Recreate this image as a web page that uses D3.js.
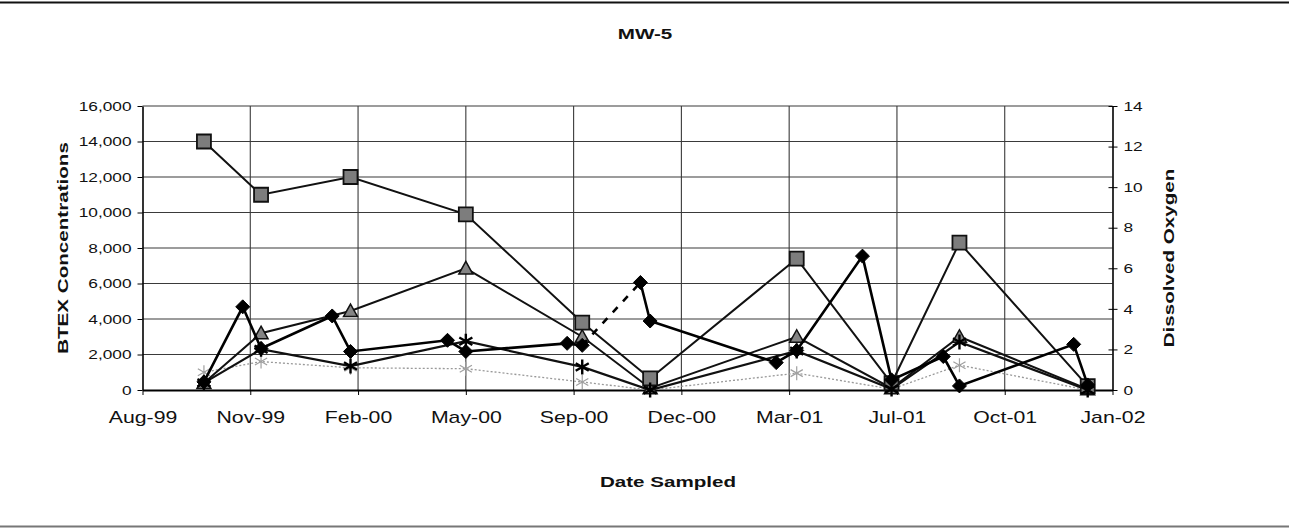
<!DOCTYPE html>
<html>
<head>
<meta charset="utf-8">
<title>MW-5</title>
<script src="https://cdn.jsdelivr.net/npm/d3@7"></script>
<style>
  html, body { margin: 0; background: #fff; }
  svg { display: block; font-family: Arial, 'Liberation Sans', sans-serif; }
</style>
</head>
<body>
<svg id="chart" width="1289" height="529"></svg>
<script>
/* MW-5: BTEX concentrations (left axis) and dissolved oxygen (right axis) */

// sampling events shared by the BTEX series
const sampleDates = ['1999-09-27', '1999-11-19', '2000-02-10', '2000-05-27', '2000-09-12',
  '2000-11-14', '2001-03-30', '2001-06-26', '2001-08-28', '2001-12-25']
const squareSeries = [14000, 11000, 12000, 9900, 3800, 650, 7400, 380, 8300, 220]
const triangleSeries = [400, 3200, 4450, 6850, 3000, 100, 3000, 100, 3000, 50]
const starSeries = [400, 2300, 1350, 2750, 1300, 0, 2200, 50, 2700, 0]
const lightStarSeries = [1000, 1600, 1250, 1200, 450, 0, 950, 50, 1400, 0]

// dissolved oxygen has its own dates
const doDates = ['1999-09-27', '1999-11-02', '1999-11-19', '2000-01-24', '2000-02-10',
  '2000-05-10', '2000-05-27', '2000-08-29', '2000-09-12', '2000-11-05', '2000-11-14',
  '2001-03-11', '2001-03-30', '2001-05-30', '2001-06-26', '2001-08-13', '2001-08-28',
  '2001-12-12', '2001-12-25']
const doValues = [0.4, 4.1, 2.05, 3.65, 1.9, 2.45, 1.9, 2.3, 2.2, 5.3, 3.4, 1.35, 1.95,
  6.6, 0.5, 1.65, 0.2, 2.25, 0.25]
const doDashedAfter = 8 // the segment from this point to the next one is dashed

// axes
const axisStart = '1999-08-01'
const dayStep = 100
const xTickLabels = ['Aug-99', 'Nov-99', 'Feb-00', 'May-00', 'Sep-00', 'Dec-00',
  'Mar-01', 'Jul-01', 'Oct-01', 'Jan-02']
const leftTicks = [0, 2000, 4000, 6000, 8000, 10000, 12000, 14000, 16000]
const rightTicks = [0, 2, 4, 6, 8, 10, 12, 14]

const STRETCH = 1.33 // the scanned fonts are wide
const parse = d3.utcParse('%Y-%m-%d')

const svg = d3.select('#chart')
const plot = { left: 142.5, right: 1112.5, top: 106, bottom: 390 }

const start = parse(axisStart)
const xTicks = xTickLabels.map((_, i) => d3.utcDay.offset(start, i * dayStep))
const x = d3.scaleUtc()
  .domain([start, xTicks[xTicks.length - 1]])
  .range([plot.left, plot.right])
const yLeft = d3.scaleLinear().domain([0, 16000]).range([plot.bottom, plot.top])
const yRight = d3.scaleLinear().domain([0, 14]).range([plot.bottom, plot.top])

/** Widen a text selection around its anchor point */
function stretch (sel, dx) {
  sel.attr('x', dx / STRETCH).attr('transform', `scale(${STRETCH},1)`)
}

/** Marker path generators, r is half the size */
const markers = {
  square: r => `M${-r},${-r}H${r}V${r}H${-r}Z`,
  triangle: r => `M0,${-r}L${r},${r * 0.8}H${-r}Z`,
  diamond: r => `M0,${-r}L${r},0L0,${r}L${-r},0Z`,
  star: r => {
    const a = r * 0.87
    const b = r * 0.5
    return `M0,${-r}V${r}M${-a},${-b}L${a},${b}M${-a},${b}L${a},${-b}`
  }
}

// frame lines of the scanned page
svg.append('line').attr('x1', 0).attr('x2', 1289).attr('y1', 2.5).attr('y2', 2.5)
  .attr('stroke', '#111').attr('stroke-width', 2)
svg.append('line').attr('x1', 0).attr('x2', 1289).attr('y1', 526.5).attr('y2', 526.5)
  .attr('stroke', '#777').attr('stroke-width', 2)

// gridlines
const grid = svg.append('g').attr('stroke', '#3a3a3a').attr('stroke-width', 1.1)
grid.selectAll('line.h').data(leftTicks.slice(1)).enter().append('line')
  .attr('x1', plot.left).attr('x2', plot.right)
  .attr('y1', d => yLeft(d)).attr('y2', d => yLeft(d))
grid.selectAll('line.v').data(xTicks.slice(1, -1)).enter().append('line')
  .attr('y1', plot.top).attr('y2', plot.bottom)
  .attr('x1', d => x(d)).attr('x2', d => x(d))

// axes
const leftAxis = svg.append('g').attr('transform', `translate(${plot.left},0)`)
  .call(d3.axisLeft(yLeft).tickValues(leftTicks).tickFormat(d3.format(','))
    .tickSizeInner(5).tickSizeOuter(0))
leftAxis.selectAll('text').call(stretch, -11)

const rightAxis = svg.append('g').attr('transform', `translate(${plot.right},0)`)
  .call(d3.axisRight(yRight).tickValues(rightTicks).tickSizeInner(5).tickSizeOuter(0))
rightAxis.selectAll('.tick line').attr('x1', -4)
rightAxis.selectAll('text').call(stretch, 11)

const bottomAxis = svg.append('g').attr('transform', `translate(0,${plot.bottom})`)
  .call(d3.axisBottom(x).tickValues(xTicks).tickFormat((d, i) => xTickLabels[i])
    .tickSizeInner(5).tickSizeOuter(0))
bottomAxis.selectAll('text').attr('font-size', 16).attr('dy', '1.55em').call(stretch, 0)

svg.selectAll('.tick text').attr('fill', '#111')
svg.selectAll('.domain').attr('stroke', '#000').attr('stroke-width', 1.6)
svg.selectAll('.tick line').attr('stroke', '#000')
leftAxis.selectAll('text').attr('font-size', 13)
rightAxis.selectAll('text').attr('font-size', 13)
bottomAxis.select('.domain').attr('stroke-width', 2.2)

// titles
function label (text, px, py, size, rotate) {
  svg.append('text')
    .attr('transform', `translate(${px},${py}) rotate(${rotate}) scale(${STRETCH},1)`)
    .attr('text-anchor', 'middle').attr('dy', '0.36em')
    .attr('font-size', size).attr('font-weight', 'bold').attr('fill', '#111')
    .text(text)
}
label('MW-5', 645, 33, 15.5, 0)
label('Date Sampled', 668, 481, 15.5, 0)
label('BTEX Concentrations', 62, 248, 15.5, -90)
label('Dissolved Oxygen', 1168, 258, 15.5, -90)

/** Draw one series: a line through the points and a marker at every point */
function drawSeries (dates, values, y, style) {
  const pts = dates.map((d, i) => [x(parse(d)), y(values[i])])
  const g = svg.append('g')
  g.append('path').attr('d', d3.line()(pts)).attr('fill', 'none')
    .attr('stroke', style.line).attr('stroke-width', style.width)
    .attr('stroke-dasharray', style.dash || null)
  g.selectAll('path.m').data(pts).enter().append('path')
    .attr('transform', p => `translate(${p[0]},${p[1]})`)
    .attr('d', markers[style.marker](style.r))
    .attr('fill', style.fill).attr('stroke', style.stroke)
    .attr('stroke-width', style.markerWidth)
  return pts
}

drawSeries(sampleDates, lightStarSeries, yLeft,
  { line: '#999', width: 1.3, dash: '2,2', marker: 'star', r: 7, fill: 'none', stroke: '#a0a0a0', markerWidth: 1.2 })
drawSeries(sampleDates, triangleSeries, yLeft,
  { line: '#111', width: 2, marker: 'triangle', r: 7, fill: '#858585', stroke: '#111', markerWidth: 1.5 })
drawSeries(sampleDates, squareSeries, yLeft,
  { line: '#111', width: 2, marker: 'square', r: 7, fill: '#7d7d7d', stroke: '#111', markerWidth: 1.8 })
drawSeries(sampleDates, starSeries, yLeft,
  { line: '#111', width: 2.2, marker: 'star', r: 7.5, fill: 'none', stroke: '#000', markerWidth: 2.4 })

// dissolved oxygen: solid before and after the dashed segment
const solidA = drawSeries(doDates.slice(0, doDashedAfter + 1), doValues.slice(0, doDashedAfter + 1), yRight,
  { line: '#000', width: 2.6, marker: 'diamond', r: 7, fill: '#000', stroke: '#000', markerWidth: 1 })
const solidB = drawSeries(doDates.slice(doDashedAfter + 1), doValues.slice(doDashedAfter + 1), yRight,
  { line: '#000', width: 2.6, marker: 'diamond', r: 7, fill: '#000', stroke: '#000', markerWidth: 1 })
svg.append('path')
  .attr('d', d3.line()([solidA[solidA.length - 1], solidB[0]]))
  .attr('fill', 'none').attr('stroke', '#000').attr('stroke-width', 2.6)
  .attr('stroke-dasharray', '7,8').attr('stroke-dashoffset', 15)
</script>
</body>
</html>
